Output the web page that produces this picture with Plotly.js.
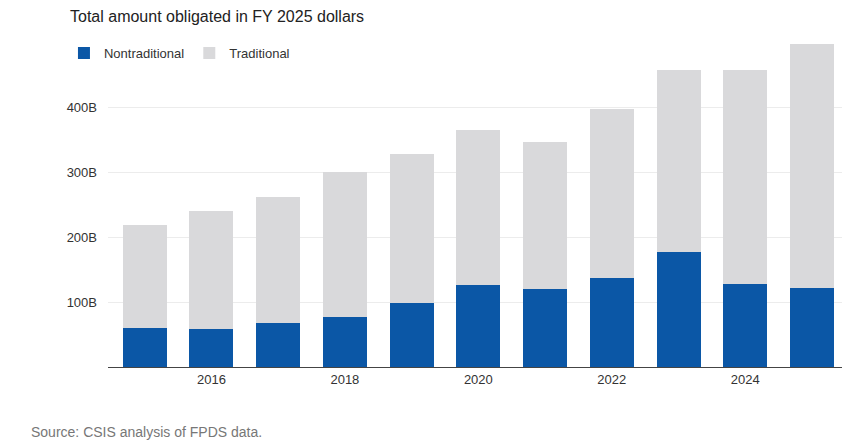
<!DOCTYPE html>
<html><head><meta charset="utf-8">
<script src="https://cdn.plot.ly/plotly-3.0.1.min.js"></script>
<style>body{margin:0;background:#fff}#chart{width:866px;height:447px}</style>
</head><body><div id="chart"></div>
<script>
const years = [2015, 2016, 2017, 2018, 2019, 2020, 2021, 2022, 2023, 2024, 2025];
const nontraditional = [60, 58, 68, 77, 98, 126, 120, 137, 177, 128, 122];
const totals = [218, 240, 262, 300, 328, 365, 346, 397, 457, 457, 497];
const traditional = totals.map((t, i) => t - nontraditional[i]);

const FONT = "'Liberation Sans', Arial, sans-serif";

const traces = [
  { type: 'bar', name: 'Nontraditional', x: years, y: nontraditional, marker: { color: '#0b57a6' }, width: 0.66 },
  { type: 'bar', name: 'Traditional', x: years, y: traditional, marker: { color: '#d9d9db' }, width: 0.66 },
];

const layout = {
  barmode: 'stack',
  width: 866, height: 447,
  margin: { l: 108, r: 24, t: 42, b: 80 },
  paper_bgcolor: '#fff', plot_bgcolor: '#fff',
  font: { family: FONT, size: 13, color: '#333' },
  showlegend: true,
  legend: { orientation: 'h', x: -0.06, xanchor: 'left', y: 0.966, yanchor: 'middle', font: { size: 13, color: '#333' }, traceorder: 'normal', itemwidth: 30 },
  xaxis: {
    range: [2014.45, 2025.45], tickvals: [2016, 2018, 2020, 2022, 2024],
    showgrid: false, showline: true, linecolor: '#444', linewidth: 1,
    ticks: '', tickfont: { size: 13, color: '#333' },
  },
  yaxis: {
    range: [0, 500], tickvals: [100, 200, 300, 400], ticktext: ['100B', '200B', '300B', '400B'],
    showgrid: true, gridcolor: '#ececec', zeroline: false, ticks: '', ticklabelstandoff: 10,
    tickfont: { size: 13, color: '#333' },
  },
  annotations: [
    { text: 'Total amount obligated in FY 2025 dollars', xref: 'paper', yref: 'paper', x: -0.055, y: 1.077, xanchor: 'left', yanchor: 'middle', showarrow: false, font: { size: 16, color: '#222' } },
    { text: 'Source: CSIS analysis of FPDS data.', xref: 'paper', yref: 'paper', x: -0.107, y: -0.17, xanchor: 'left', yanchor: 'top', showarrow: false, font: { size: 14, color: '#777' } },
  ],
};

Plotly.newPlot('chart', traces, layout, { displayModeBar: false });
</script></body></html>
